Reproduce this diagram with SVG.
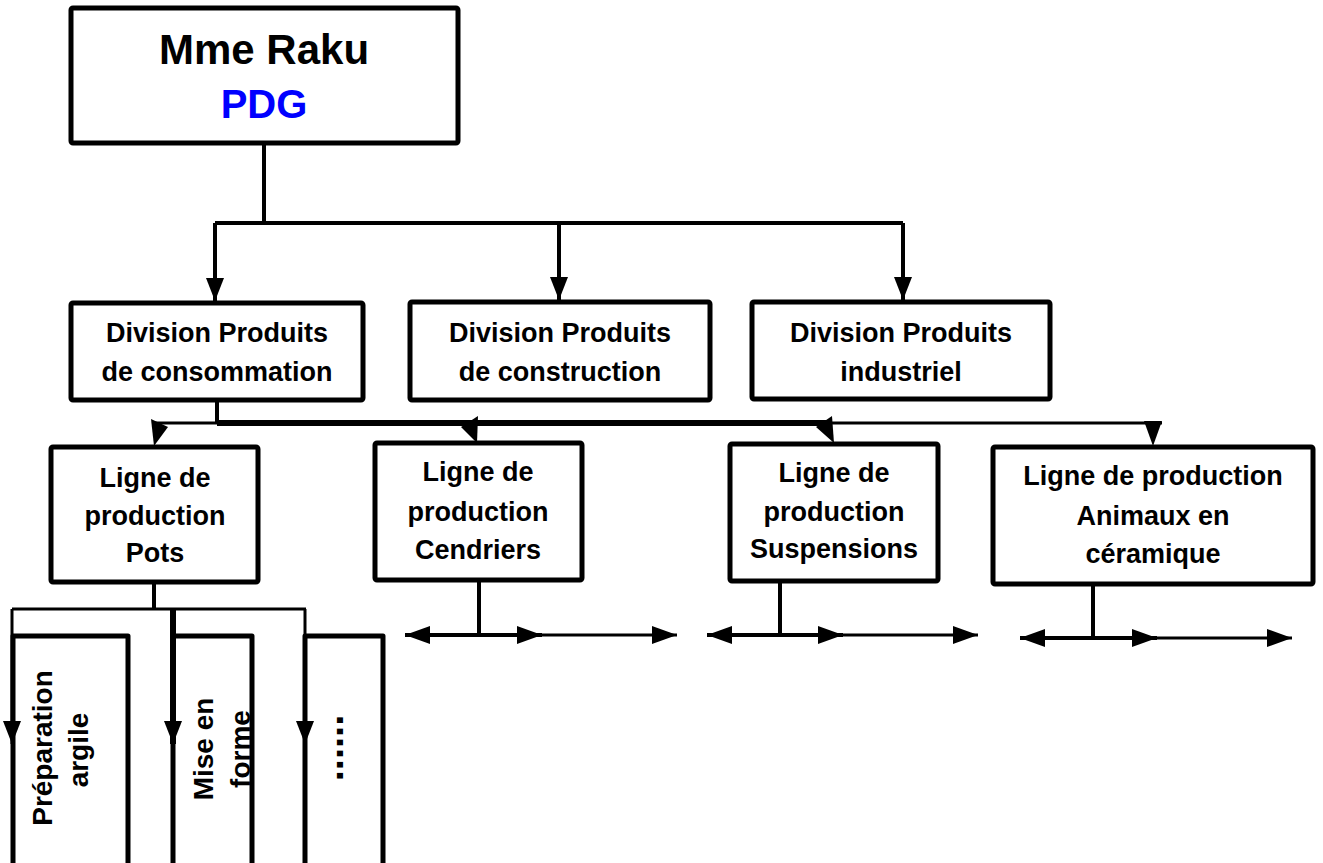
<svg xmlns="http://www.w3.org/2000/svg" width="1323" height="863" viewBox="0 0 1323 863">
<defs>
<style>
.box{fill:#fff;stroke:#000;stroke-width:5;stroke-linejoin:round}
.t{font-family:"Liberation Sans",Arial,sans-serif;font-weight:bold;fill:#000;text-anchor:middle}
.d{font-size:27px}
.r{font-size:28px}
.ln{fill:none;stroke:#000;stroke-width:4}
.thin{fill:none;stroke:#000;stroke-width:3}
.thick{fill:none;stroke:#000;stroke-width:6}
.head{fill:#000;stroke:none}
</style>
<marker id="ad" markerUnits="userSpaceOnUse" markerWidth="24" markerHeight="20" refX="23" refY="9" orient="auto-start-reverse" viewBox="0 0 24 18">
<path d="M0,0 L23,9 L0,18 Z" fill="#000"/>
</marker>
<marker id="ah" markerUnits="userSpaceOnUse" markerWidth="26" markerHeight="20" refX="25" refY="10" orient="auto-start-reverse" viewBox="0 0 26 20">
<path d="M0,1 L25,10 L0,19 Z" fill="#000"/>
</marker>
</defs>

<g id="pdg">
<rect class="box" x="71" y="8" width="387" height="135" rx="2"/>
<text class="t" x="264" y="64" font-size="42">Mme Raku</text>
<text class="t" x="264" y="118" font-size="40" style="fill:#0000ff">PDG</text>
</g>

<g id="div-consommation">
<rect class="box" x="71" y="303" width="292" height="97" rx="2"/>
<text class="t d" x="217" y="342">Division Produits</text>
<text class="t d" x="217" y="381">de consommation</text>
</g>
<g id="div-construction">
<rect class="box" x="410" y="302" width="300" height="98" rx="2"/>
<text class="t d" x="560" y="342">Division Produits</text>
<text class="t d" x="560" y="381">de construction</text>
</g>
<g id="div-industriel">
<rect class="box" x="752" y="302" width="298" height="97" rx="2"/>
<text class="t d" x="901" y="342">Division Produits</text>
<text class="t d" x="901" y="381">industriel</text>
</g>

<g id="ligne-pots">
<rect class="box" x="51" y="447" width="207" height="135" rx="2"/>
<text class="t d" x="155" y="487">Ligne de</text>
<text class="t d" x="155" y="525">production</text>
<text class="t d" x="155" y="562">Pots</text>
</g>
<g id="ligne-cendriers">
<rect class="box" x="375" y="443" width="207" height="137" rx="2"/>
<text class="t d" x="478" y="481">Ligne de</text>
<text class="t d" x="478" y="521">production</text>
<text class="t d" x="478" y="559">Cendriers</text>
</g>
<g id="ligne-suspensions">
<rect class="box" x="730" y="444" width="208" height="137" rx="2"/>
<text class="t d" x="834" y="482">Ligne de</text>
<text class="t d" x="834" y="521">production</text>
<text class="t d" x="834" y="558">Suspensions</text>
</g>
<g id="ligne-animaux">
<rect class="box" x="993" y="447" width="320" height="137" rx="2"/>
<text class="t d" x="1153" y="485">Ligne de production</text>
<text class="t d" x="1153" y="525">Animaux en</text>
<text class="t d" x="1153" y="563">céramique</text>
</g>

<g id="tache-preparation">
<rect class="box" x="13" y="636" width="115" height="240"/>
<text class="t r" transform="translate(52,748) rotate(-90)">Préparation</text>
<text class="t r" transform="translate(88,750) rotate(-90)">argile</text>
</g>
<g id="tache-mise-en-forme">
<rect class="box" x="173" y="636" width="79" height="240"/>
<text class="t r" transform="translate(213,749) rotate(-90)">Mise en</text>
<text class="t r" transform="translate(250,749) rotate(-90)">forme</text>
</g>
<g id="tache-autre">
<rect class="box" x="305" y="636" width="78" height="240"/>
<text class="t" font-size="40" transform="translate(343,748) rotate(-90)">......</text>
</g>

<g id="connectors">
<path class="ln" d="M264,145 V223"/>
<path class="ln" d="M215,223 H903"/>
<path class="ln" d="M215,223 V301" marker-end="url(#ad)"/>
<path class="ln" d="M559,223 V300" marker-end="url(#ad)"/>
<path class="ln" d="M903,223 V300" marker-end="url(#ad)"/>
<path class="ln" d="M217,402 V423"/>
<path class="thick" d="M217,423 H830"/>
<path class="thin" d="M155,423 H217"/>
<path class="thin" d="M830,423 H1162"/>
<polygon class="head" points="151,419 168,427 154,446"/>
<polygon class="head" points="478,416 461,427 477,443"/>
<polygon class="head" points="832,416 816,427 834,443"/>
<polygon class="head" points="1144,421 1162,421 1153,446"/>
<path class="ln" d="M154,584 V609"/>
<path class="thin" d="M12,609 H306"/>
<path class="thin" d="M12,609 V744" marker-end="url(#ad)"/>
<path class="thick" d="M173,609 V744" marker-end="url(#ad)"/>
<path class="thin" d="M305,609 V744" marker-end="url(#ad)"/>
<path class="ln" d="M479,582 V635"/>
<path class="ln" d="M405,635 H542" marker-start="url(#ah)" marker-end="url(#ah)"/>
<path class="thin" d="M542,635 H677" marker-end="url(#ah)"/>
<path class="ln" d="M780,583 V635"/>
<path class="ln" d="M707,635 H843" marker-start="url(#ah)" marker-end="url(#ah)"/>
<path class="thin" d="M843,635 H978" marker-end="url(#ah)"/>
<path class="ln" d="M1093,586 V638"/>
<path class="ln" d="M1020,638 H1157" marker-start="url(#ah)" marker-end="url(#ah)"/>
<path class="thin" d="M1157,638 H1292" marker-end="url(#ah)"/>
</g>
</svg>
